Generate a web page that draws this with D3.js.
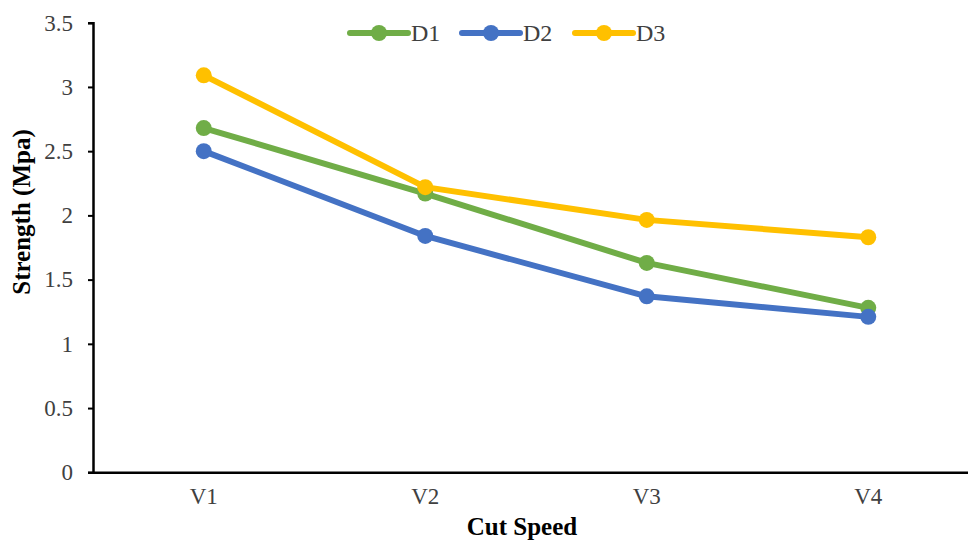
<!DOCTYPE html>
<html>
<head>
<meta charset="utf-8">
<script src="https://cdn.jsdelivr.net/npm/d3@7"></script>
<style>
  html, body { margin: 0; padding: 0; background: #fff; }
  svg { display: block; font-family: "Liberation Serif", "Times New Roman", serif; }
</style>
</head>
<body>
<svg id="chart" width="968" height="543"></svg>
<script>
// Strength measured at each cut speed, per depth series
const categories = ["V1", "V2", "V3", "V4"];
const seriesNames = ["D1", "D2", "D3"];
const d1Values = [2.68, 2.17, 1.63, 1.28];
const d2Values = [2.50, 1.84, 1.37, 1.21];
const d3Values = [3.09, 2.22, 1.965, 1.83];
const yTicks = [0, 0.5, 1, 1.5, 2, 2.5, 3, 3.5];
const colors = ["#70AD47", "#4472C4", "#FFC000"];

const series = [
  { name: seriesNames[0], values: d1Values, color: colors[0] },
  { name: seriesNames[1], values: d2Values, color: colors[1] },
  { name: seriesNames[2], values: d3Values, color: colors[2] }
];

const FONT = "Liberation Serif, Times New Roman, serif";
const svg = d3.select("#chart");
const plot = { left: 93, right: 979, top: 22.7, bottom: 472.3 };

const x = d3.scaleBand().domain(categories).range([plot.left, plot.right]).padding(0);
const y = d3.scaleLinear().domain([0, 3.5]).range([plot.bottom, plot.top]);

// Y axis
const yAxis = svg.append("g")
  .attr("transform", `translate(${plot.left},0)`)
  .call(d3.axisLeft(y).tickValues(yTicks).tickSize(5).tickPadding(15)
    .tickFormat(d => String(d)));
yAxis.attr("font-family", FONT);
yAxis.select(".domain").attr("stroke", "#000").attr("stroke-width", 2.5);
yAxis.selectAll(".tick line").attr("stroke", "#000").attr("stroke-width", 2);
yAxis.selectAll(".tick text")
  .attr("font-size", 23).attr("fill", "#404040");

// X axis
const xAxis = svg.append("g")
  .attr("transform", `translate(0,${plot.bottom})`)
  .call(d3.axisBottom(x).tickSize(0).tickPadding(15).tickSizeOuter(0));
xAxis.attr("font-family", FONT);
xAxis.select(".domain").attr("stroke", "#000").attr("stroke-width", 2.5);
xAxis.selectAll(".tick text")
  .attr("font-size", 23).attr("fill", "#404040");

// Axis titles
svg.append("text")
  .attr("x", 522).attr("y", 535)
  .attr("text-anchor", "middle")
  .attr("font-family", FONT)
  .attr("font-size", 25).attr("font-weight", "bold").attr("fill", "#000")
  .text("Cut Speed");

svg.append("text")
  .attr("transform", "translate(30,212) rotate(-90)")
  .attr("text-anchor", "middle")
  .attr("font-family", FONT)
  .attr("font-size", 25).attr("font-weight", "bold").attr("fill", "#000")
  .text("Strength (Mpa)");

// Series lines and markers
const line = d3.line()
  .x((d, i) => x(categories[i]) + x.bandwidth() / 2)
  .y(d => y(d));

series.forEach(s => {
  const g = svg.append("g");
  g.append("path")
    .datum(s.values)
    .attr("d", line)
    .attr("fill", "none")
    .attr("stroke", s.color)
    .attr("stroke-width", 6)
    .attr("stroke-linejoin", "round")
    .attr("stroke-linecap", "round");
  g.selectAll("circle")
    .data(s.values)
    .join("circle")
    .attr("cx", (d, i) => x(categories[i]) + x.bandwidth() / 2)
    .attr("cy", d => y(d))
    .attr("r", 8)
    .attr("fill", s.color);
});

// Legend
const legendX = [350, 462, 575];
const legend = svg.append("g");
series.forEach((s, i) => {
  const lg = legend.append("g").attr("transform", `translate(${legendX[i]},33)`);
  lg.append("line")
    .attr("x1", 0).attr("x2", 58).attr("y1", 0).attr("y2", 0)
    .attr("stroke", s.color).attr("stroke-width", 6).attr("stroke-linecap", "round");
  lg.append("circle").attr("cx", 29).attr("cy", 0).attr("r", 8).attr("fill", s.color);
  lg.append("text")
    .attr("x", 61).attr("y", 8)
    .attr("font-family", FONT)
    .attr("font-size", 24).attr("fill", "#404040")
    .text(s.name);
});
</script>
</body>
</html>
